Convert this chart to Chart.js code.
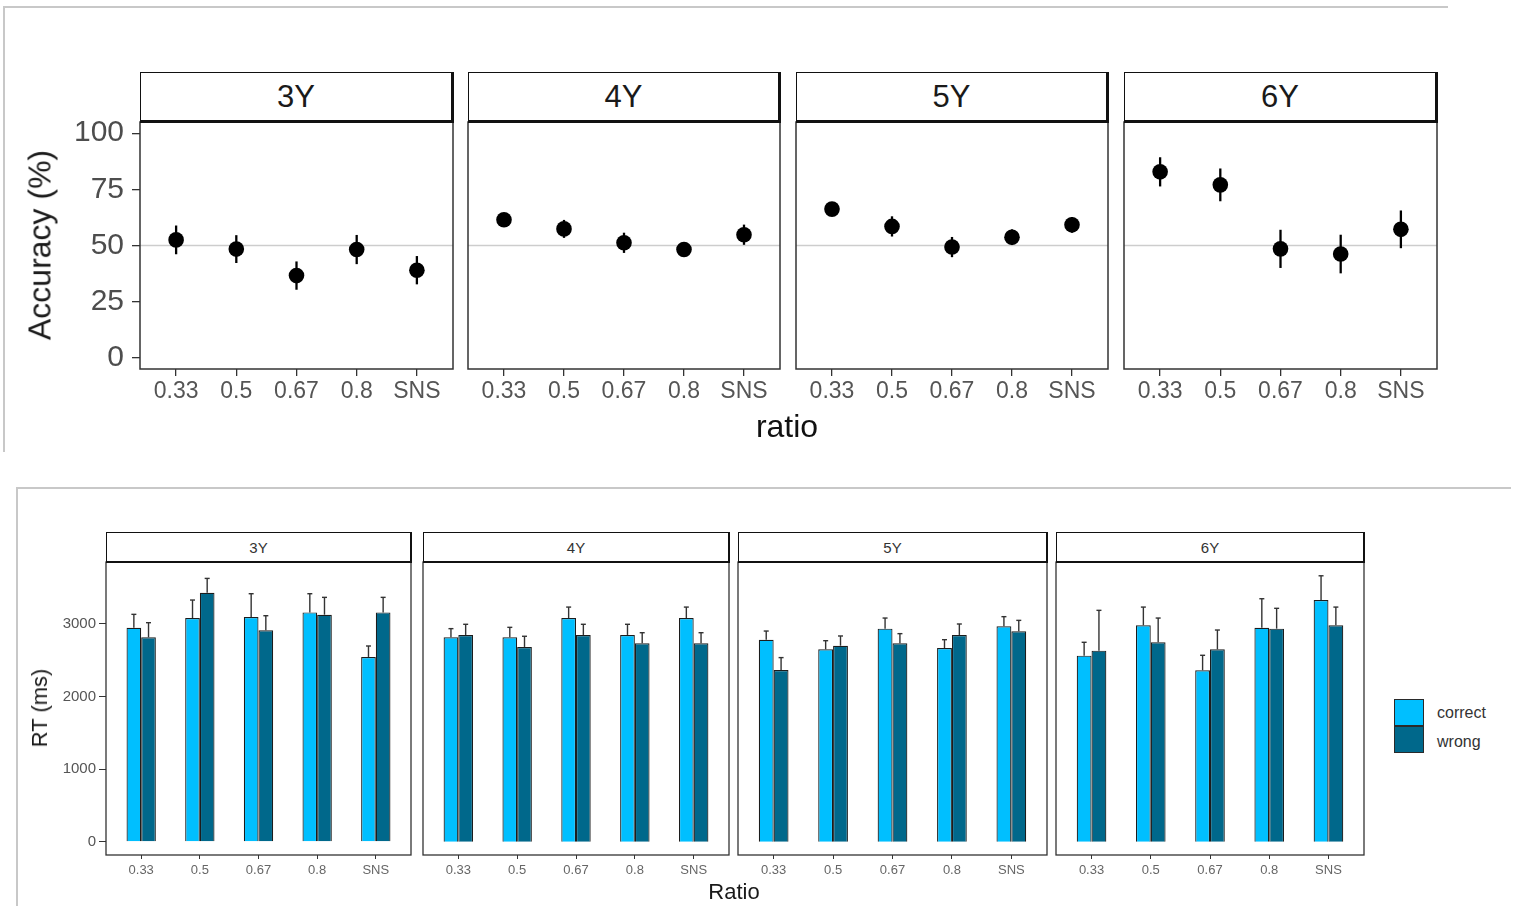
<!DOCTYPE html>
<html>
<head>
<meta charset="utf-8">
<script src="https://cdn.jsdelivr.net/npm/chart.js@4"></script>
<style>
  html, body { margin:0; padding:0; background:#fff; }
  body { width:1518px; height:906px; position:relative; overflow:hidden; font-family:"Liberation Sans", Arial, sans-serif; }
  .line { position:absolute; background:#c8c8c8; }
  .strip { position:absolute; box-sizing:border-box; border-style:solid; border-color:#111; background:#fff;
           display:flex; align-items:center; justify-content:center; color:#1a1a1a; }
  .txt { position:absolute; white-space:nowrap; transform:translate(-50%,-50%); }
  .rot { position:absolute; white-space:nowrap; transform:translate(-50%,-50%) rotate(-90deg); }
  .lgbox { position:absolute; box-sizing:border-box; border:1.5px solid #2a2a2a; }
  canvas { position:absolute; }
</style>
</head>
<body>
<script>
// ---------------- DATA ----------------
const ratios = ['0.33', '0.5', '0.67', '0.8', 'SNS'];
const ages = ['3Y', '4Y', '5Y', '6Y'];

// Accuracy (%) : mean and error half-width per age group
const acc3Y = [52.5, 48.4, 36.6, 48.2, 39.0];
const acc3YErr = [6.4, 6.2, 6.3, 6.5, 6.3];
const acc4Y = [61.5, 57.4, 51.2, 48.2, 54.8];
const acc4YErr = [3.0, 4.0, 4.5, 3.0, 4.5];
const acc5Y = [66.2, 58.5, 49.3, 53.7, 59.2];
const acc5YErr = [3.0, 4.5, 4.5, 3.5, 3.5];
const acc6Y = [82.8, 77.0, 48.5, 46.2, 57.2];
const acc6YErr = [6.5, 7.3, 8.5, 8.6, 8.4];
const accTicks = [0, 25, 50, 75, 100];
const chanceLevel = 50;

// RT (ms) : correct / wrong means and error per age group
const rtCorrect3Y = [2948, 3081, 3095, 3159, 2545];
const rtCorrect3YErr = [184, 248, 321, 257, 151];
const rtWrong3Y = [2816, 3429, 2912, 3127, 3159];
const rtWrong3YErr = [201, 198, 201, 239, 207];
const rtCorrect4Y = [2816, 2816, 3081, 2848, 3081];
const rtCorrect4YErr = [119, 137, 151, 147, 151];
const rtWrong4Y = [2848, 2683, 2848, 2733, 2733];
const rtWrong4YErr = [147, 147, 147, 146, 146];
const rtCorrect5Y = [2783, 2650, 2935, 2668, 2967];
const rtCorrect5YErr = [119, 119, 146, 115, 133];
const rtWrong5Y = [2366, 2700, 2733, 2848, 2898];
const rtWrong5YErr = [170, 134, 133, 151, 151];
const rtCorrect6Y = [2563, 2981, 2362, 2948, 3329];
const rtCorrect6YErr = [184, 251, 206, 399, 334];
const rtWrong6Y = [2632, 2747, 2650, 2935, 2981];
const rtWrong6YErr = [555, 334, 266, 280, 251];
const rtTicks = [0, 1000, 2000, 3000];
const seriesNames = ['correct', 'wrong'];

// --------------- STYLE / LAYOUT ---------------
const FONT = '"Liberation Sans", Arial, sans-serif';
const COL_CORRECT = '#00BFFF';
const COL_WRONG = '#00688B';

const accMeans = [acc3Y, acc4Y, acc5Y, acc6Y];
const accErrs = [acc3YErr, acc4YErr, acc5YErr, acc6YErr];
const rtC = [rtCorrect3Y, rtCorrect4Y, rtCorrect5Y, rtCorrect6Y];
const rtCE = [rtCorrect3YErr, rtCorrect4YErr, rtCorrect5YErr, rtCorrect6YErr];
const rtW = [rtWrong3Y, rtWrong4Y, rtWrong5Y, rtWrong6Y];
const rtWE = [rtWrong3YErr, rtWrong4YErr, rtWrong5YErr, rtWrong6YErr];

const topLefts = [140, 468, 796, 1124], topWidths = [313, 312, 312, 313];
const topPlotTop = 122, topPlotH = 247;
const botLefts = [106, 423, 738, 1056], botWidths = [305, 306, 309, 308];
const botPlotTop = 562, botPlotH = 293;

// --------------- PLUGINS ---------------
const panelDecor = {
  id: 'panelDecor',
  beforeDatasetsDraw(chart, args, opts) {
    if (opts.refLine == null) return;
    const { ctx, chartArea: a } = chart;
    const py = chart.scales.y.getPixelForValue(opts.refLine);
    ctx.save();
    ctx.strokeStyle = '#cdcdcd'; ctx.lineWidth = 1.5;
    ctx.beginPath(); ctx.moveTo(a.left, py); ctx.lineTo(a.right, py); ctx.stroke();
    ctx.restore();
  },
  afterDraw(chart, args, opts) {
    const { ctx, chartArea: a } = chart;
    ctx.save();
    ctx.strokeStyle = opts.borderColor || '#333'; ctx.lineWidth = opts.borderWidth || 1.5;
    ctx.strokeRect(a.left, a.top, a.right - a.left, a.bottom - a.top);
    ctx.restore();
  }
};

const errorBars = {
  id: 'errorBars',
  _draw(chart, opts) {
    const { ctx } = chart;
    const yS = chart.scales.y;
    ctx.save();
    ctx.strokeStyle = opts.color; ctx.lineWidth = opts.width;
    chart.data.datasets.forEach((ds, di) => {
      const meta = chart.getDatasetMeta(di);
      const errs = opts.errors[di];
      meta.data.forEach((el, i) => {
        const v = ds.data[i].y, e = errs[i];
        const yHi = yS.getPixelForValue(v + e);
        const yLo = opts.upOnly ? yS.getPixelForValue(v) : yS.getPixelForValue(v - e);
        ctx.beginPath(); ctx.moveTo(el.x, yLo); ctx.lineTo(el.x, yHi); ctx.stroke();
        if (opts.cap) {
          ctx.beginPath(); ctx.moveTo(el.x - opts.cap, yHi); ctx.lineTo(el.x + opts.cap, yHi); ctx.stroke();
        }
      });
    });
    ctx.restore();
  },
  beforeDatasetsDraw(chart, args, opts) { if (!opts.upOnly) this._draw(chart, opts); },
  afterDatasetsDraw(chart, args, opts) { if (opts.upOnly) this._draw(chart, opts); }
};

function makeCanvas(left, top, w, h) {
  const c = document.createElement('canvas');
  c.width = w; c.height = h;
  c.style.left = left + 'px'; c.style.top = top + 'px';
  c.style.width = w + 'px'; c.style.height = h + 'px';
  document.body.appendChild(c);
  return c;
}
function addDiv(cls, css, text) {
  const d = document.createElement('div');
  d.className = cls; d.style.cssText = css;
  if (text != null) d.textContent = text;
  document.body.appendChild(d);
  return d;
}
function noPad(s) { s.paddingLeft = 0; s.paddingRight = 0; s.paddingTop = 0; s.paddingBottom = 0; }

const PAD = 3;
const xTickVals = ratios.map((r, i) => i + 1);

// --------------- TOP: ACCURACY ---------------
ages.forEach((age, p) => {
  const showY = p === 0;
  const YW = showY ? 100 : 0, XH = 45;
  const left = topLefts[p] - PAD - YW;
  const w = PAD + YW + topWidths[p] + PAD;
  const h = PAD + topPlotH + XH;
  const cv = makeCanvas(left, topPlotTop - PAD, w, h);
  new Chart(cv, {
    type: 'scatter',
    data: {
      datasets: [{
        data: ratios.map((r, i) => ({ x: i + 1, y: accMeans[p][i] })),
        backgroundColor: '#000', borderWidth: 0, pointRadius: 7.8, pointHoverRadius: 7.8
      }]
    },
    options: {
      responsive: false, animation: false, devicePixelRatio: 1,
      layout: { autoPadding: false, padding: { left: PAD, right: PAD, top: PAD, bottom: 0 } },
      plugins: {
        legend: { display: false }, tooltip: { enabled: false },
        panelDecor: { refLine: chanceLevel, borderColor: '#333', borderWidth: 1.5 },
        errorBars: { errors: [accErrs[p]], color: '#000', width: 2.3, cap: 0, upOnly: false }
      },
      scales: {
        x: {
          type: 'linear', min: 0.4, max: 5.6,
          afterBuildTicks: s => { s.ticks = xTickVals.map(v => ({ value: v })); },
          afterFit: s => { s.height = XH; noPad(s); },
          grid: { offset: false, drawOnChartArea: false, drawTicks: true, tickLength: 7, color: '#333', lineWidth: 1.3 },
          border: { display: false },
          ticks: { autoSkip: false, maxRotation: 0, padding: 2, color: '#555',
                   font: { family: FONT, size: 23 }, callback: v => ratios[v - 1] }
        },
        y: {
          display: showY, min: -5, max: 105,
          afterBuildTicks: s => { s.ticks = accTicks.map(v => ({ value: v })); },
          afterFit: s => { s.width = YW; noPad(s); },
          grid: { drawOnChartArea: false, drawTicks: true, tickLength: 8, color: '#333', lineWidth: 1.3 },
          border: { display: false },
          ticks: { padding: 8, color: '#4d4d4d', font: { family: FONT, size: 30 }, callback: v => String(v) }
        }
      }
    },
    plugins: [panelDecor, errorBars]
  });
  addDiv('strip', `left:${topLefts[p]}px;top:72px;width:${topWidths[p] + 1}px;height:51px;border-width:1.5px 3px 3px 1.5px;font-size:31px;`, age);
});

// --------------- BOTTOM: RT ---------------
ages.forEach((age, p) => {
  const showY = p === 0;
  const YW = showY ? 80 : 0, XH = 30;
  const left = botLefts[p] - PAD - YW;
  const w = PAD + YW + botWidths[p] + PAD;
  const h = PAD + botPlotH + XH;
  const cv = makeCanvas(left, botPlotTop - PAD, w, h);
  new Chart(cv, {
    type: 'bar',
    data: {
      datasets: [
        { label: seriesNames[0], data: ratios.map((r, i) => ({ x: i + 1, y: rtC[p][i] })),
          backgroundColor: COL_CORRECT, borderColor: '#1c1c1c', borderWidth: 1.2,
          categoryPercentage: 0.5, barPercentage: 1 },
        { label: seriesNames[1], data: ratios.map((r, i) => ({ x: i + 1, y: rtW[p][i] })),
          backgroundColor: COL_WRONG, borderColor: '#1c1c1c', borderWidth: 1.2,
          categoryPercentage: 0.5, barPercentage: 1 }
      ]
    },
    options: {
      responsive: false, animation: false, devicePixelRatio: 1,
      layout: { autoPadding: false, padding: { left: PAD, right: PAD, top: PAD, bottom: 0 } },
      plugins: {
        legend: { display: false }, tooltip: { enabled: false },
        panelDecor: { refLine: null, borderColor: '#333', borderWidth: 1.3 },
        errorBars: { errors: [rtCE[p], rtWE[p]], color: '#333', width: 1.4, cap: 2.5, upOnly: true }
      },
      scales: {
        x: {
          type: 'linear', min: 0.4, max: 5.6, offset: false,
          afterBuildTicks: s => { s.ticks = xTickVals.map(v => ({ value: v })); },
          afterFit: s => { s.height = XH; noPad(s); },
          grid: { offset: false, drawOnChartArea: false, drawTicks: true, tickLength: 4, color: '#333', lineWidth: 1 },
          border: { display: false },
          ticks: { autoSkip: false, maxRotation: 0, padding: 4, color: '#666',
                   font: { family: FONT, size: 13 }, callback: v => ratios[v - 1] }
        },
        y: {
          display: showY, min: -183, max: 3853,
          afterBuildTicks: s => { s.ticks = rtTicks.map(v => ({ value: v })); },
          afterFit: s => { s.width = YW; noPad(s); },
          grid: { drawOnChartArea: false, drawTicks: true, tickLength: 7, color: '#333', lineWidth: 1 },
          border: { display: false },
          ticks: { padding: 3, color: '#555', font: { family: FONT, size: 15 }, callback: v => String(v) }
        }
      }
    },
    plugins: [panelDecor, errorBars]
  });
  addDiv('strip', `left:${botLefts[p]}px;top:532px;width:${botWidths[p] + 1}px;height:31px;border-width:1.3px 2.5px 2.5px 1.3px;font-size:15px;color:#333;`, age);
});

// --------------- TITLES, LEGEND, FRAMES ---------------
addDiv('line', 'left:3px;top:6px;width:1445px;height:1.5px;');
addDiv('line', 'left:3px;top:6px;width:1.5px;height:446px;');
addDiv('line', 'left:16px;top:487px;width:1495px;height:1.5px;');
addDiv('line', 'left:16px;top:487px;width:1.5px;height:419px;');

addDiv('rot', `left:40px;top:245px;font-size:32px;color:#1a1a1a;`, 'Accuracy (%)');
addDiv('txt', `left:787px;top:426px;font-size:32px;color:#111;`, 'ratio');
addDiv('rot', `left:40px;top:708px;font-size:22px;color:#1a1a1a;`, 'RT (ms)');
addDiv('txt', `left:734px;top:892px;font-size:22px;color:#1a1a1a;`, 'Ratio');

addDiv('lgbox', `left:1394px;top:699px;width:30px;height:27px;background:${COL_CORRECT};`);
addDiv('lgbox', `left:1394px;top:726px;width:30px;height:27px;background:${COL_WRONG};`);
addDiv('txt', `left:1437px;top:713px;transform:translate(0,-50%);font-size:16px;color:#333;`, seriesNames[0]);
addDiv('txt', `left:1437px;top:742px;transform:translate(0,-50%);font-size:16px;color:#333;`, seriesNames[1]);
</script>
</body>
</html>
